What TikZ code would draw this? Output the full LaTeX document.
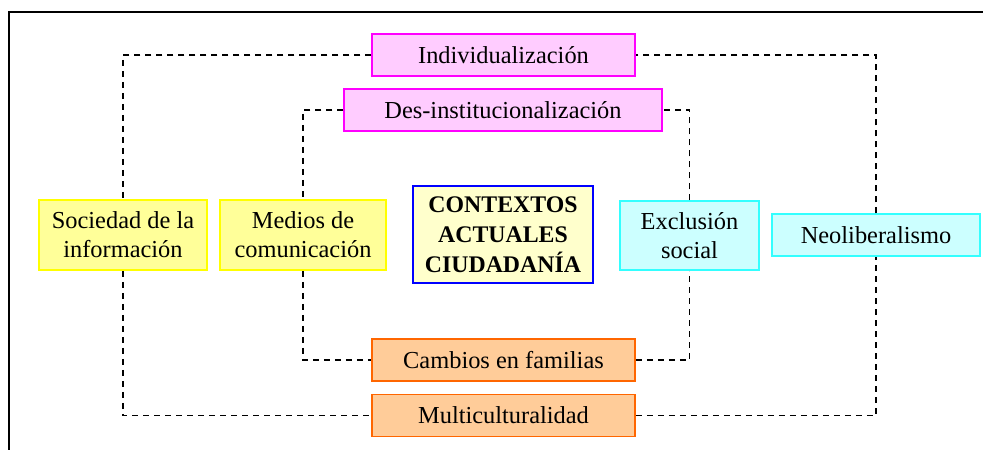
\documentclass[tikz,border=0pt]{standalone}
\usepackage{fontspec}
\setmainfont{Liberation Serif}
\definecolor{pinkfill}{HTML}{FFCCFF}
\definecolor{pinkline}{HTML}{FF00FF}
\definecolor{yelfill}{HTML}{FFFF99}
\definecolor{yelline}{HTML}{FFFF00}
\definecolor{cenfill}{HTML}{FFFFCC}
\definecolor{cenline}{HTML}{0000FF}
\definecolor{cyanfill}{HTML}{CCFFFF}
\definecolor{cyanline}{HTML}{33FFFF}
\definecolor{orafill}{HTML}{FFCC99}
\definecolor{oraline}{HTML}{FF6600}
\begin{document}
\begin{tikzpicture}[x=1pt,y=-1pt,
        box/.style={draw,line width=1.5pt,align=center,inner sep=0pt,
            font=\fontsize{24.4}{29}\selectfont},
        pinkbox/.style={box,draw=pinkline,fill=pinkfill,minimum height=42pt},
        yelbox/.style={box,draw=yelline,fill=yelfill,minimum height=70pt},
        cyanbox/.style={box,draw=cyanline,fill=cyanfill},
        orabox/.style={box,draw=oraline,fill=orafill,minimum width=263pt,minimum height=42pt},
        link/.style={dashed,dash pattern=on 6pt off 5pt,line width=1.3pt}]
        \useasboundingbox (0,0) rectangle (983,450);
        %% Frame
        \draw[line width=1.7pt] (983,12) -- (9,12) -- (9,450);
        %% Boxes
        \node[pinkbox,minimum width=263pt] (ind) at (503.5,55) {Individualización};
        \node[pinkbox,minimum width=318pt] (des) at (503,110) {Des-institucionalización};
        \node[yelbox,minimum width=168pt] (soc) at (123,235) {Sociedad de la\\información};
        \node[yelbox,minimum width=166pt] (med) at (303,235) {Medios de\\comunicación};
        \node[box,draw=cenline,fill=cenfill,minimum width=180pt,minimum height=97pt,
            font=\fontsize{23.8}{30}\selectfont\bfseries] (ctx) at (503,234.5)
            {CONTEXTOS\\ACTUALES\\CIUDADANÍA};
        \node[cyanbox,minimum width=139pt,minimum height=69pt] (exc) at (689.5,235.5) {Exclusión\\social};
        \node[cyanbox,minimum width=208pt,minimum height=42pt] (neo) at (876,235) {Neoliberalismo};
        \node[orabox] (cam) at (503.5,360) {Cambios en familias};
        \node[orabox] (mul) at (503.5,415.5) {Multiculturalidad};
        %% Outer loop
        \draw[link] (ind.west) -| (soc.north);
        \draw[link] (soc.south) |- (mul.west);
        \draw[link] (mul.east) -| (neo.south);
        \draw[link] (neo.north) |- (ind.east);
        %% Inner loop
        \draw[link] (des.west) -| (med.north);
        \draw[link] (med.south) |- (cam.west);
        \draw[link] (cam.east) -| (exc.south);
        \draw[link] (exc.north) |- (des.east);
    \end{tikzpicture}
\end{document}
